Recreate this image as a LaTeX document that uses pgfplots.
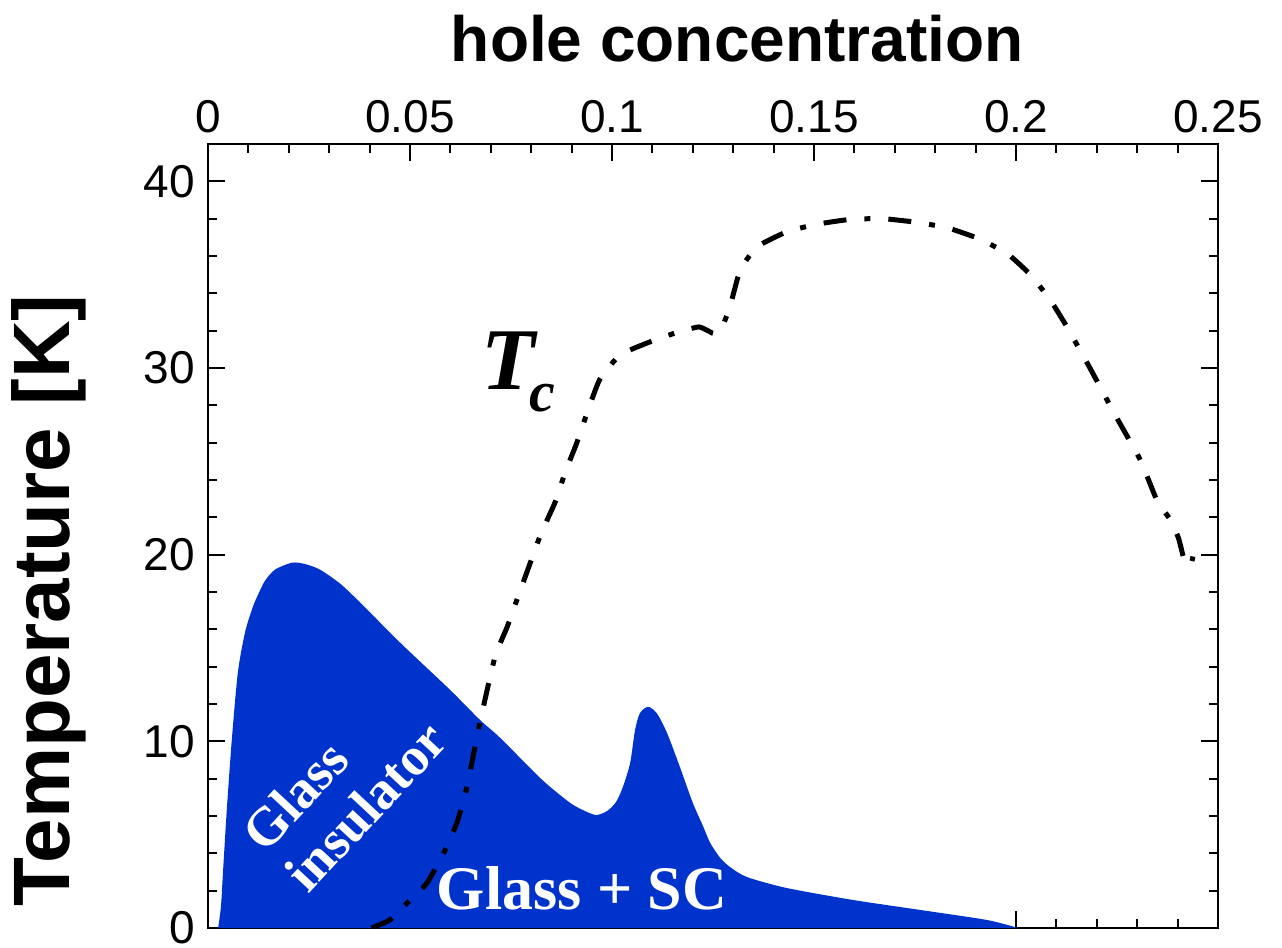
\documentclass[border=0pt]{standalone}
\usepackage{fontspec}
\setmainfont{Liberation Sans}
\newfontfamily\tnr{Liberation Serif}
\usepackage{pgfplots}
\pgfplotsset{compat=1.18}
\definecolor{glassblue}{RGB}{0,51,204}

\begin{document}
\begin{tikzpicture}
\begin{axis}[
  scale only axis, width=505pt, height=392pt,
  xmin=0, xmax=0.25, ymin=0, ymax=42,
  xtick={0,0.05,0.1,0.15,0.2,0.25},
  xticklabels={0,0.05,0.1,0.15,0.2,0.25},
  ytick={0,10,20,30,40},
  minor x tick num=4, minor y tick num=4,
  tick align=inside,
  xtick pos=both, ytick pos=both,
  xticklabel pos=top, yticklabel pos=left,
  major tick length=8.5pt, minor tick length=4.5pt,
  every tick/.style={black, line width=1pt},
  axis line style={line width=1pt},
  /pgf/number format/assume math mode=true,
  tick label style={font=\fontsize{23}{23}\selectfont},
  xticklabel style={yshift=2pt},
  yticklabel style={xshift=-3pt},
  xlabel={hole concentration},
  xlabel style={font=\fontsize{32}{32}\selectfont\bfseries,
    at={(axis description cs:0.524,1)}, anchor=base, yshift=41pt},
  ylabel={Temperature [K]},
  ylabel style={font=\fontsize{40}{40}\selectfont\bfseries,
    at={(axis description cs:-0.158,0.418)}, anchor=center, rotate=0},
]

% glass region
\addplot[fill=glassblue, draw=none, smooth, tension=0.45] coordinates {
  (0.0025,0) (0.0032,1.13) (0.0037,2.95) (0.0047,6.49) (0.0059,10.1)
  (0.0074,13.7) (0.0092,15.87) (0.0111,17.2) (0.0124,17.86) (0.0141,18.6)
  (0.0166,19.2) (0.0208,19.57) (0.0240,19.5) (0.0277,19.2) (0.0327,18.45)
  (0.0376,17.45) (0.0475,15.3) (0.0599,12.76) (0.0673,11.15) (0.0723,10.19)
  (0.0822,8.04) (0.0871,7.13) (0.0908,6.54) (0.0958,6.06) (0.0988,6.27)
  (0.1010,6.75) (0.1027,7.56) (0.1045,8.85)
  (0.1057,10.6) (0.1069,11.5) (0.1089,11.85) (0.1111,11.5) (0.1136,10.46)
  (0.1168,8.63) (0.1200,6.7) (0.1225,5.47) (0.1243,4.56) (0.1268,3.75)
  (0.1292,3.27) (0.1334,2.73) (0.1433,2.14) (0.1597,1.5) (0.1762,0.97)
  (0.1928,0.43) (0.2002,0.02)
} \closedcycle;

% superconducting transition temperature
\addplot[black, line width=2.5pt, smooth, tension=0.3,
  dash pattern=on 11.5pt off 9pt on 3pt off 9pt] coordinates {
  (0.0405,0) (0.0450,0.43) (0.0493,1.34) (0.0542,2.41) (0.0587,4.18)
  (0.0616,5.63) (0.0641,7.56) (0.0673,11.0) (0.0710,14.5) (0.0740,16.1)
  (0.0765,17.6) (0.0822,21.0) (0.0859,22.8) (0.0884,24.4) (0.0913,26.0)
  (0.0940,27.7) (0.0970,29.4) (0.1020,30.7) (0.1094,31.4) (0.1168,31.96)
  (0.1215,32.2) (0.1237,32.0) (0.1252,31.85) (0.1270,32.05) (0.1292,33.3)
  (0.1312,34.9) (0.1324,35.5) (0.1359,36.5) (0.1433,37.3) (0.1507,37.7)
  (0.1589,37.96) (0.1671,38.0) (0.1755,37.8) (0.1832,37.5) (0.1911,36.9)
  (0.1980,36.1) (0.2040,34.9) (0.2089,33.5) (0.2126,32.2) (0.2183,30.0)
  (0.2245,27.5) (0.2307,25.1) (0.2349,22.9) (0.2381,21.9) (0.2402,20.9)
  (0.2414,19.9) (0.2423,19.45) (0.2433,19.45) (0.2438,19.9)
};

\node[text=white, font=\tnr\bfseries\fontsize{31}{31}\selectfont]
  at (axis cs:0.0926,2.14) {Glass + SC};
\node[text=white, rotate=47, align=left, inner sep=0pt,
  font=\tnr\bfseries\fontsize{27}{29.5}\selectfont]
  at (axis cs:0.0337,7.6) {Glass\\insulator};
\node[anchor=base west, inner sep=0pt,
  font=\tnr\bfseries\itshape\fontsize{44}{44}\selectfont]
  at (axis cs:0.0676,28.85) {T\kern-3pt\raisebox{-11pt}{\fontsize{29}{29}\selectfont c}};
\end{axis}
\pgfresetboundingbox
\path ([shift={(-104pt,-9.5pt)}]current axis.south west)
  rectangle ([shift={(32pt,72pt)}]current axis.north east);
\end{tikzpicture}
\end{document}
